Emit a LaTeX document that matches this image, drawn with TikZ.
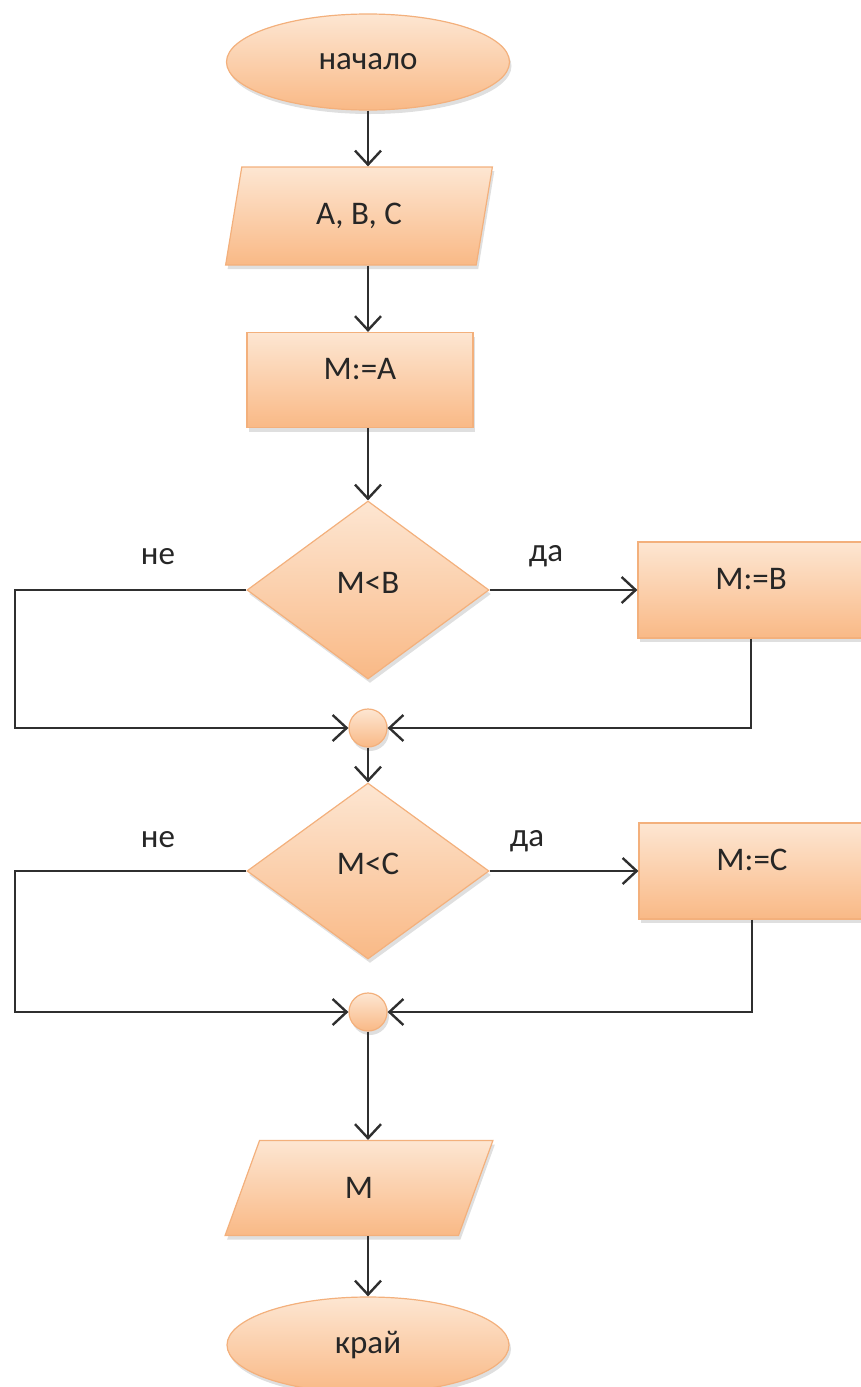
\documentclass[tikz,border=0pt]{standalone}
\usepackage{fontspec}
\setmainfont{Carlito}
\usetikzlibrary{shapes.geometric,arrows.meta,shadows}
\definecolor{boxtop}{HTML}{FDE6D2}
\definecolor{boxbot}{HTML}{F9B986}
\definecolor{boxedge}{HTML}{F3B07C}
\definecolor{wire}{HTML}{2F2F2F}

\begin{document}
\begin{tikzpicture}
[every node/.style={inner sep=0pt, text=black!85, font=\fontsize{33}{38}\selectfont},
 block/.style={top color=boxtop, bottom color=boxbot, draw=boxedge, line width=1.2pt,
   drop shadow={shadow xshift=2pt, shadow yshift=-4pt, opacity=0.25}},
 boxtext/.style={text height=22pt, text depth=24pt},
 decisiontext/.style={text height=22pt, text depth=16pt},
 flow/.style={draw=wire, line width=2.4pt, -{Straight Barb[length=14pt, width=26pt]}}]
\useasboundingbox (0pt, 0pt) rectangle (860pt, -1387pt);
\node (start) [ellipse, block, minimum width=283pt, minimum height=96pt] at (368pt, -62pt) {начало};
\node (in) [trapezium, trapezium left angle=77, trapezium right angle=103, trapezium stretches=true, block, minimum width=268pt, minimum height=98pt] at (359pt, -216pt) {A, B, C};
\node (setA) [rectangle, block, boxtext, minimum width=226pt, minimum height=95pt] at (360pt, -380pt) {M:=A};
\node (cmpB) [diamond, block, decisiontext, minimum width=242pt, minimum height=178pt] at (368pt, -590pt) {M<B};
\node (setB) [rectangle, block, boxtext, minimum width=226pt, minimum height=96pt] at (751pt, -590pt) {M:=B};
\node (joinB) [circle, block, minimum size=38pt] at (368pt, -728pt) {};
\node (cmpC) [diamond, block, decisiontext, minimum width=242pt, minimum height=176pt] at (368pt, -871pt) {M<C};
\node (setC) [rectangle, block, boxtext, minimum width=226pt, minimum height=96pt] at (752pt, -871pt) {M:=C};
\node (joinC) [circle, block, minimum size=38pt] at (368pt, -1012pt) {};
\node (out) [trapezium, trapezium left angle=77, trapezium right angle=103, trapezium stretches=true, block, minimum width=268pt, minimum height=95pt] at (359pt, -1188pt) {M};
\node (stop) [ellipse, block, minimum width=282pt, minimum height=96pt] at (368pt, -1345pt) {край};
\node (noB) at (158pt, -557pt) {не};
\node (yesB) at (546pt, -556pt) {да};
\node (noC) at (158pt, -840pt) {не};
\node (yesC) at (527pt, -841pt) {да};
\coordinate (leftB) at (15pt, -728pt);
\coordinate (leftC) at (15pt, -1012pt);
\draw [flow] (start) -- (start |- in.north);
\draw [flow] (start |- in.south) -- (start |- setA.north);
\draw [flow] (start |- setA.south) -- (cmpB);
\draw [flow] (cmpB) -- (setB);
\draw [flow] (cmpB.west) -| (leftB) -- (joinB);
\draw [flow] (setB.south) |- (joinB);
\draw [flow] (joinB) -- (cmpC);
\draw [flow] (cmpC) -- (setC);
\draw [flow] (cmpC.west) -| (leftC) -- (joinC);
\draw [flow] (setC.south) |- (joinC);
\draw [flow] (joinC) -- (joinC |- out.north);
\draw [flow] (start |- out.south) -- (stop);
\end{tikzpicture}
\end{document}
